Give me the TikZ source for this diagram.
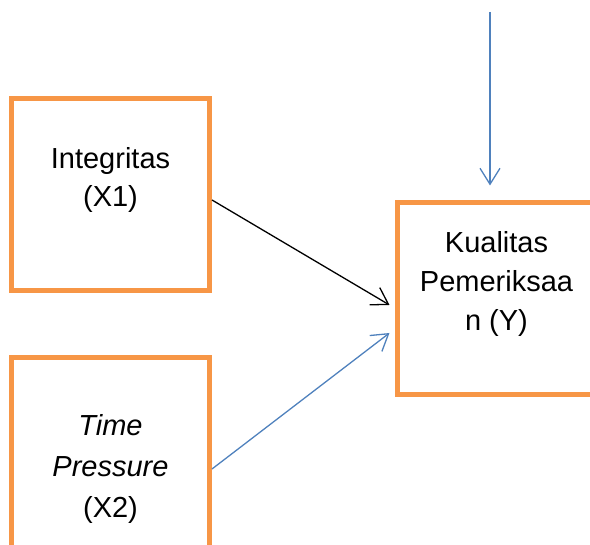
\documentclass[tikz,border=0pt]{standalone}
\usepackage{fontspec}
\setmainfont{Liberation Sans}
\usetikzlibrary{arrows.meta}
\definecolor{boxorange}{HTML}{F79646}
\definecolor{arrowblue}{HTML}{4F81BD}
\tikzset{
	varbox/.style={draw=boxorange,line width=5pt,inner sep=0pt,minimum width=198pt,minimum height=192pt},
	vartext/.style={align=center,font=\fontsize{29}{38}\selectfont},
	link/.style={line width=1.3pt,-{Straight Barb[length=16pt,width=20pt]}}
}
\begin{document}
\begin{tikzpicture}[x=1pt,y=1pt]
	\clip (0,0) rectangle (590,545);
	\useasboundingbox (0,0) rectangle (590,545);
	\node[varbox] (int) at (110.5,350.5) {};
	\node[varbox,minimum height=200pt] (time) at (110.5,87.5) {};
	\node[varbox] (kual) at (496.5,246.5) {};
	\node[vartext] (intlbl) at (110.5,365) {Integritas\\(X1)};
	\node[vartext,font=\fontsize{29}{41}\selectfont] (timelbl) at (110.5,76) {\textit{Time}\\\textit{Pressure}\\(X2)};
	\node[vartext,font=\fontsize{29}{39}\selectfont] (kuallbl) at (496.5,261) {Kualitas\\Pemeriksaa\\n (Y)};
	\coordinate (top) at (490,533);
	\draw[link,draw=arrowblue] (top) -- ([xshift=-6.5pt,yshift=14.5pt]kual.north);
	\draw[link,draw=black] ([yshift=-5.5pt]int.east) -- ([xshift=-5.5pt,yshift=-6.5pt]kual.west);
	\draw[link,draw=arrowblue] ([yshift=-11.5pt]time.east) -- ([xshift=-5.5pt,yshift=-34.5pt]kual.west);
\end{tikzpicture}
\end{document}
